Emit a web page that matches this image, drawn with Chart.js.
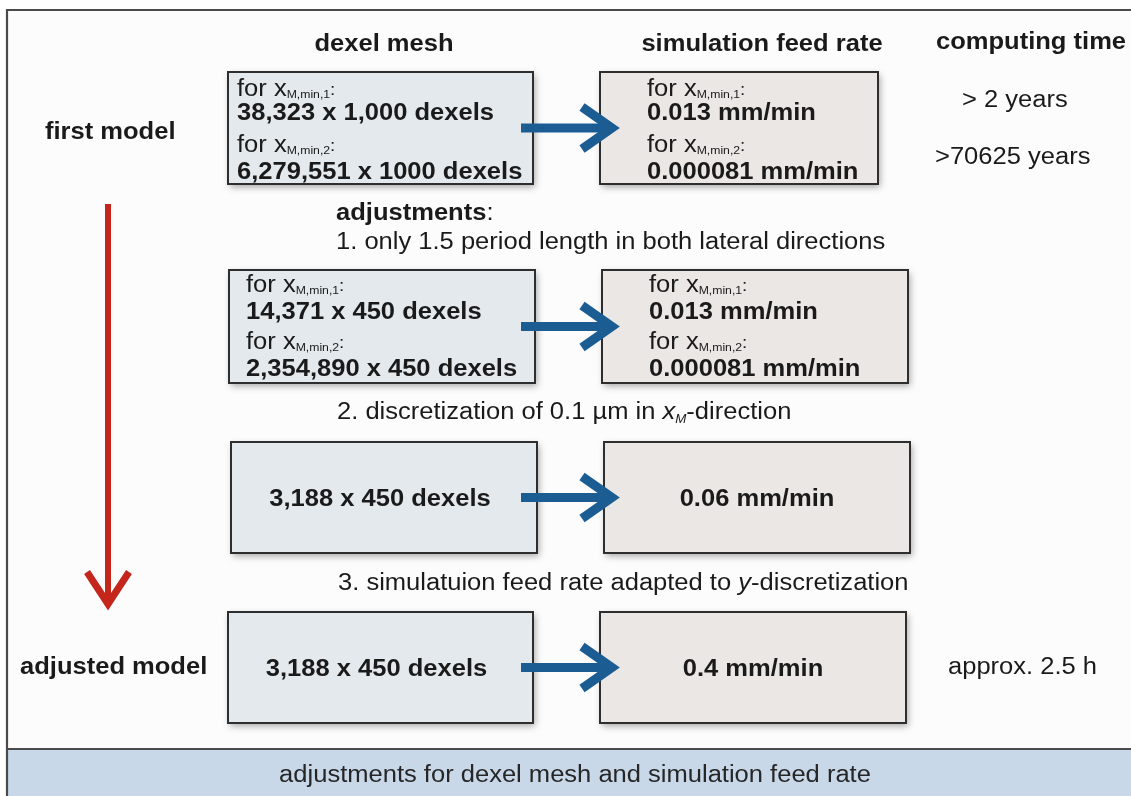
<!DOCTYPE html>
<html>
<head>
<meta charset="utf-8">
<script src="https://cdn.jsdelivr.net/npm/chart.js@4.4.1/dist/chart.umd.min.js"></script>
<style>
  html, body { margin: 0; padding: 0; background: #ffffff; }
  #wrap { width: 1131px; height: 796px; }
</style>
</head>
<body>
<div id="wrap"><canvas id="diagram" width="1131" height="796"></canvas></div>
<script>
// texts of the diagram
var columnTitles = ['dexel mesh', 'simulation feed rate', 'computing time'];
var modelLabels = ['first model', 'adjusted model'];
var caseSubscripts = ['M,min,1', 'M,min,2'];
var meshValues = [
    ['38,323 x 1,000 dexels', '6,279,551 x 1000 dexels'],
    ['14,371 x 450 dexels', '2,354,890 x 450 dexels'],
    ['3,188 x 450 dexels'],
    ['3,188 x 450 dexels']
];
var feedValues = [
    ['0.013 mm/min', '0.000081 mm/min'],
    ['0.013 mm/min', '0.000081 mm/min'],
    ['0.06 mm/min'],
    ['0.4 mm/min']
];
var computingTimes = ['> 2 years', '>70625 years', 'approx. 2.5 h'];
var adjustmentTitle = 'adjustments';
var footerText = 'adjustments for dexel mesh and simulation feed rate';

// layout (diagram units, mapped through the chart scales)
var FONT = "'Liberation Sans', Arial, sans-serif";
var SX = 1.11; // the original lettering is a little stretched sideways
var layout = {
    frame: { left: 7, top: 10, right: 1140, footerTop: 749, bottom: 800 },
    rows: [
        { top: 72, bottom: 184, mesh: [228, 533], feed: [600, 878], lines: [96, 120, 152, 179], textX: [237, 647] },
        { top: 270, bottom: 383, mesh: [229, 535], feed: [602, 908], lines: [292, 319, 349, 376], textX: [246, 649] },
        { top: 442, bottom: 553, mesh: [231, 537], feed: [604, 910] },
        { top: 612, bottom: 723, mesh: [228, 533], feed: [600, 906] }
    ],
    arrowX: [521, 618],
    red: { x: 108, top: 204, tip: 608, wing: 21, wingY: 572 }
};

// draws a list of text pieces on one baseline, stretched by SX
function runs(ctx, x, y, parts, align) {
    var w = 0;
    parts.forEach(function(p) { ctx.font = p.font; w += ctx.measureText(p.t).width; });
    ctx.save();
    ctx.translate(x, y);
    ctx.scale(SX, 1);
    var cx = align === 'center' ? -w / 2 : 0;
    ctx.textBaseline = 'alphabetic';
    ctx.textAlign = 'left';
    parts.forEach(function(p) {
        ctx.font = p.font;
        ctx.fillText(p.t, cx, p.dy || 0);
        cx += ctx.measureText(p.t).width;
    });
    ctx.restore();
}

function text(ctx, t, x, y, font, align) {
    runs(ctx, x, y, [{ t: t, font: font }], align);
}

function caseLabel(ctx, x, y, sub) {
    runs(ctx, x, y, [
        { t: 'for x', font: '23px ' + FONT },
        { t: sub, font: '11px ' + FONT, dy: 2 },
        { t: ':', font: '17px ' + FONT, dy: -1 }
    ]);
}

var diagramPlugin = {
    id: 'diagram',
    beforeDraw: function(chart) {
        var ctx = chart.ctx;
        var sx = chart.scales.x, sy = chart.scales.y;
        var X = function(v) { return sx.getPixelForValue(v); };
        var Y = function(v) { return sy.getPixelForValue(v); };
        var f = layout.frame;
        var B = 'bold 23px ' + FONT, N = '23px ' + FONT;

        ctx.save();
        ctx.fillStyle = '#ffffff';
        ctx.fillRect(0, 0, chart.width, chart.height);
        // frame
        ctx.fillStyle = '#fcfcfc';
        ctx.fillRect(X(f.left), Y(f.top), X(f.right) - X(f.left), Y(f.footerTop) - Y(f.top));
        ctx.fillStyle = '#c9d8e9';
        ctx.fillRect(X(f.left), Y(f.footerTop), X(f.right) - X(f.left), Y(f.bottom) - Y(f.footerTop));
        ctx.strokeStyle = '#4a4a4a';
        ctx.lineWidth = 2.2;
        ctx.beginPath();
        ctx.moveTo(X(f.left), Y(f.bottom));
        ctx.lineTo(X(f.left), Y(f.top));
        ctx.lineTo(X(f.right), Y(f.top));
        ctx.moveTo(X(f.left), Y(f.footerTop));
        ctx.lineTo(X(f.right), Y(f.footerTop));
        ctx.stroke();

        // headers
        ctx.fillStyle = '#1a1a1a';
        text(ctx, columnTitles[0], X(384), Y(51), B, 'center');
        text(ctx, columnTitles[1], X(762), Y(51), B, 'center');
        text(ctx, columnTitles[2], X(1031), Y(49), B, 'center');

        // boxes
        layout.rows.forEach(function(r, i) {
            [[r.mesh, '#e3e9ed'], [r.feed, '#ebe7e4']].forEach(function(b) {
                var x0 = X(b[0][0]), x1 = X(b[0][1]), y0 = Y(r.top), y1 = Y(r.bottom);
                ctx.save();
                ctx.shadowColor = 'rgba(0,0,0,0.35)';
                ctx.shadowBlur = 7;
                ctx.shadowOffsetX = 2;
                ctx.shadowOffsetY = 3;
                ctx.fillStyle = b[1];
                ctx.fillRect(x0, y0, x1 - x0, y1 - y0);
                ctx.restore();
                ctx.strokeStyle = '#2e2e2e';
                ctx.lineWidth = 2;
                ctx.strokeRect(x0, y0, x1 - x0, y1 - y0);
            });

            ctx.fillStyle = '#1a1a1a';
            if (r.lines) {
                for (var k = 0; k < 2; k++) {
                    caseLabel(ctx, X(r.textX[0]), Y(r.lines[2 * k]), caseSubscripts[k]);
                    caseLabel(ctx, X(r.textX[1]), Y(r.lines[2 * k]), caseSubscripts[k]);
                    text(ctx, meshValues[i][k], X(r.textX[0]), Y(r.lines[2 * k + 1]), B);
                    text(ctx, feedValues[i][k], X(r.textX[1]), Y(r.lines[2 * k + 1]), B);
                }
            } else {
                var base = (r.top + r.bottom) / 2 + 8;
                text(ctx, meshValues[i][0], X((r.mesh[0] + r.mesh[1]) / 2 - 4), Y(base), B, 'center');
                text(ctx, feedValues[i][0], X((r.feed[0] + r.feed[1]) / 2), Y(base), B, 'center');
            }

            // blue arrow
            var ay = Y((r.top + r.bottom) / 2);
            var ax0 = X(layout.arrowX[0]), ax1 = X(layout.arrowX[1]);
            ctx.strokeStyle = '#1b5c93';
            ctx.fillStyle = '#1b5c93';
            ctx.fillRect(ax0, ay - 4.5, ax1 - ax0 - 8, 9);
            ctx.lineWidth = 9;
            ctx.lineCap = 'butt';
            ctx.lineJoin = 'miter';
            ctx.beginPath();
            ctx.moveTo(ax1 - 36, ay - 21);
            ctx.lineTo(ax1 - 6, ay);
            ctx.lineTo(ax1 - 36, ay + 21);
            ctx.stroke();
        });

        // red arrow
        var rd = layout.red;
        ctx.strokeStyle = '#c4261c';
        ctx.lineWidth = 6;
        ctx.beginPath();
        ctx.moveTo(X(rd.x), Y(rd.top));
        ctx.lineTo(X(rd.x), Y(rd.tip - 6));
        ctx.stroke();
        ctx.lineWidth = 7;
        ctx.beginPath();
        ctx.moveTo(X(rd.x - rd.wing), Y(rd.wingY));
        ctx.lineTo(X(rd.x), Y(rd.tip - 4));
        ctx.lineTo(X(rd.x + rd.wing), Y(rd.wingY));
        ctx.stroke();

        // side labels
        ctx.fillStyle = '#1a1a1a';
        text(ctx, modelLabels[0], X(45), Y(139), B);
        text(ctx, modelLabels[1], X(20), Y(674), B);
        text(ctx, computingTimes[0], X(962), Y(107), N);
        text(ctx, computingTimes[1], X(935), Y(164), N);
        text(ctx, computingTimes[2], X(948), Y(674), N);

        // adjustment steps
        runs(ctx, X(336), Y(220), [
            { t: adjustmentTitle, font: B },
            { t: ':', font: N }
        ]);
        text(ctx, '1. only 1.5 period length in both lateral directions', X(336), Y(249), N);
        runs(ctx, X(337), Y(419), [
            { t: '2. discretization of 0.1 \u00b5m in ', font: N },
            { t: 'x', font: 'italic 23px ' + FONT },
            { t: 'M', font: 'italic 12px ' + FONT, dy: 4 },
            { t: '-direction', font: N }
        ]);
        runs(ctx, X(338), Y(590), [
            { t: '3. simulatuion feed rate adapted to ', font: N },
            { t: 'y', font: 'italic 23px ' + FONT },
            { t: '-discretization', font: N }
        ]);

        // footer
        ctx.fillStyle = '#262626';
        text(ctx, footerText, X(575), Y(782), N, 'center');
        ctx.restore();
    }
};

new Chart(document.getElementById('diagram'), {
    type: 'scatter',
    data: { datasets: [] },
    options: {
        responsive: false,
        animation: false,
        devicePixelRatio: 1,
        layout: { padding: 0 },
        plugins: { legend: { display: false }, tooltip: { enabled: false } },
        scales: {
            x: { type: 'linear', min: 0, max: 1131, display: false },
            y: { type: 'linear', min: 0, max: 796, reverse: true, display: false }
        }
    },
    plugins: [diagramPlugin]
});
</script>
</body>
</html>
